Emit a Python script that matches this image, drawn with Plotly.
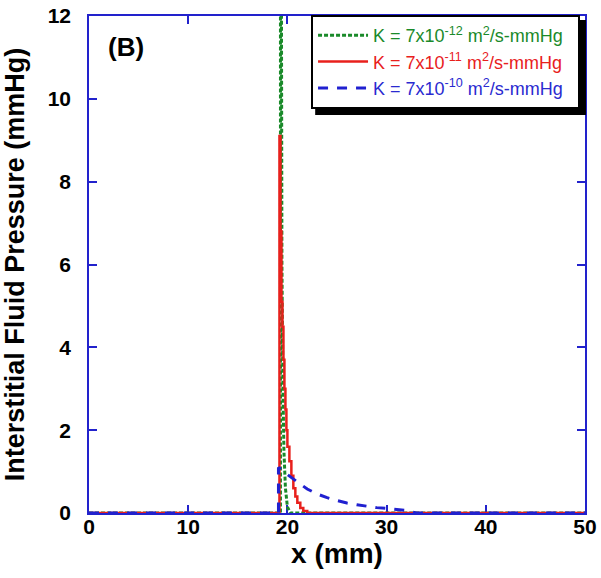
import plotly.graph_objects as go

# ---- data ----
x_k12 = [0, 19.3, 19.3, 19.38, 19.45, 19.55, 19.65, 19.8, 20.0, 20.3, 50]
p_k12 = [0, 0, 25.0, 12.0, 6.0, 3.0, 1.5, 0.6, 0.15, 0.0, 0]

x_k11 = [0, 19.2, 19.2, 19.3, 19.4, 19.5, 19.6, 19.7, 19.8, 19.9, 20.0, 20.2, 20.4,
         20.6, 20.8, 21.0, 21.3, 21.6, 22.0, 50]
p_k11 = [0, 0, 9.1, 6.8, 5.1, 4.5, 3.7, 3.0, 2.5, 2.0, 1.6, 1.25, 0.9,
         0.6, 0.4, 0.25, 0.12, 0.05, 0.0, 0]

x_k10 = [0, 19.1, 19.1, 19.6, 20.0, 21.0, 22.0, 23.0, 24.0, 25.0, 26.0, 27.0, 28.0,
         29.0, 30.0, 31.0, 32.0, 33.0, 50]
p_k10 = [0, 0, 1.1, 1.0, 0.93, 0.75, 0.58, 0.46, 0.37, 0.3, 0.24, 0.2, 0.16,
         0.13, 0.11, 0.09, 0.06, 0.0, 0]

names = [
    "<span style='color:#1a8a2a'>K = 7x10<sup>-12</sup> m<sup>2</sup>/s-mmHg&nbsp;&nbsp;</span>",
    "<span style='color:#e8201c'>K = 7x10<sup>-11</sup> m<sup>2</sup>/s-mmHg&nbsp;&nbsp;</span>",
    "<span style='color:#2a2ad0'>K = 7x10<sup>-10</sup> m<sup>2</sup>/s-mmHg&nbsp;&nbsp;</span>",
]
x_ticks = [0, 10, 20, 30, 40, 50]
y_ticks = [0, 2, 4, 6, 8, 10, 12]

FONT = "Liberation Sans, Arial, Helvetica, sans-serif"
AX = "#2222cc"

fig = go.Figure()
fig.add_trace(go.Scatter(x=x_k12, y=p_k12, mode="lines", name=names[0],
                         line=dict(color="#1a8a2a", width=3, dash="4px,2px")))
fig.add_trace(go.Scatter(x=x_k11, y=p_k11, mode="lines", name=names[1],
                         line=dict(color="#e8201c", width=2.5, shape="hv")))
fig.add_trace(go.Scatter(x=x_k10, y=p_k10, mode="lines", name=names[2],
                         line=dict(color="#2020d0", width=3, dash="10px,9px")))

fig.update_layout(
    width=601, height=578,
    margin=dict(l=89, r=16, t=16, b=65, autoexpand=False),
    paper_bgcolor="white", plot_bgcolor="white",
    font=dict(family=FONT, color="black"),
    showlegend=True,
    legend=dict(x=0.99, xanchor="right", y=1.002, yanchor="top",
                bgcolor="white", bordercolor="black", borderwidth=2,
                font=dict(family=FONT, size=18),
                traceorder="normal", itemwidth=50),
    xaxis=dict(range=[0, 50], tickvals=x_ticks, showgrid=False, zeroline=False,
               showline=True, linecolor=AX, linewidth=1.5, mirror="ticks",
               ticks="inside", ticklen=8, tickcolor=AX, tickwidth=1.5,
               layer="below traces", automargin=False, ticklabelstandoff=-6,
               ticklabeloverflow="allow",
               tickfont=dict(size=21, weight="bold"),
               title=dict(text="x (mm)", font=dict(size=28, weight="bold"), standoff=6)),
    yaxis=dict(range=[0, 12], tickvals=y_ticks, showgrid=False, zeroline=False,
               showline=True, linecolor=AX, linewidth=1.5, mirror="ticks",
               ticks="inside", ticklen=8, tickcolor=AX, tickwidth=1.5,
               layer="below traces", automargin=False, ticklabelstandoff=12,
               ticklabeloverflow="allow",
               tickfont=dict(size=21, weight="bold"),
               title=dict(text="Interstitial Fluid Pressure (mmHg)",
                          font=dict(size=27, weight="bold"), standoff=18)),
    annotations=[dict(text="(B)", x=0.034, y=0.938, xref="paper", yref="paper",
                      xanchor="left", yanchor="middle", showarrow=False,
                      font=dict(size=26, weight="bold", color="black"))],
    shapes=[dict(type="rect", xref="paper", yref="paper", x0=0.456, x1=1.002,
                 y0=0.801, y1=0.992, fillcolor="black", line=dict(width=0),
                 layer="above")],
)

fig.write_html("out.html", config={"displayModeBar": False},
               post_script="document.body.style.margin='0';document.body.style.overflow='hidden';")
